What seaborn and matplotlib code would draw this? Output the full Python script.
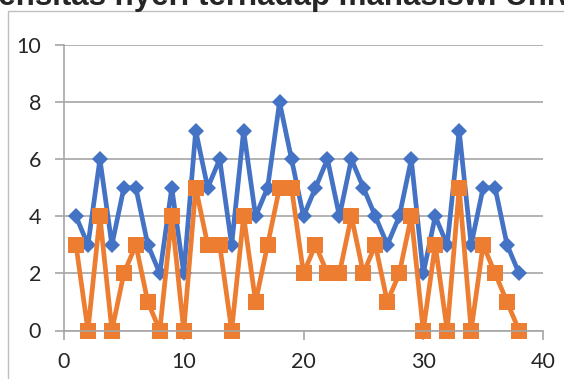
import pandas as pd
import seaborn as sns
import matplotlib.pyplot as plt
from matplotlib.patches import Rectangle

# data
responden = list(range(1, 39))
seri_1 = [4, 3, 6, 3, 5, 5, 3, 2, 5, 2, 7, 5, 6, 3, 7, 4, 5, 8, 6, 4,
          5, 6, 4, 6, 5, 4, 3, 4, 6, 2, 4, 3, 7, 3, 5, 5, 3, 2]
seri_2 = [3, 0, 4, 0, 2, 3, 1, 0, 4, 0, 5, 3, 3, 0, 4, 1, 3, 5, 5, 2,
          3, 2, 2, 4, 2, 3, 1, 2, 4, 0, 3, 0, 5, 0, 3, 2, 1, 0]
x_ticks = [0, 10, 20, 30, 40]
y_ticks = [0, 2, 4, 6, 8, 10]
judul = 'Intensitas nyeri terhadap mahasiswi Universitas'

df = pd.DataFrame({'x': responden, 'seri_1': seri_1, 'seri_2': seri_2})

sns.set_style('white')
plt.rcParams['font.family'] = ['Lato', 'DejaVu Sans']

fig = plt.figure(figsize=(5.64, 3.79), dpi=100)
ax = fig.add_axes([64 / 564, 48.5 / 379, (543 - 64) / 564, (330.5 - 45) / 379])

grey = '#a6a6a6'
sns.lineplot(data=df, x='x', y='seri_1', ax=ax, color='#4472C4', lw=3.4,
             marker='D', markersize=8.5, markeredgewidth=0)
sns.lineplot(data=df, x='x', y='seri_2', ax=ax, color='#ED7D31', lw=3.4,
             marker='s', markersize=11.5, markeredgewidth=0)
for ln in ax.lines:
    ln.set_clip_on(False)

ax.set_xlim(0, 40)
ax.set_ylim(0, 10)
ax.set_xticks(x_ticks)
ax.set_yticks(y_ticks)
ax.set_xlabel('')
ax.set_ylabel('')
ax.grid(axis='y', color=grey, lw=1.2)
ax.set_axisbelow(True)
for s in ['top', 'right']:
    ax.spines[s].set_visible(False)
for s in ['left', 'bottom']:
    ax.spines[s].set_color(grey)
    ax.spines[s].set_linewidth(1.2)
ax.tick_params(axis='both', length=6.5, width=1.2, color=grey,
               labelsize=15.5, labelcolor='#262626')
ax.tick_params(axis='y', pad=10)
ax.tick_params(axis='x', pad=9)
ax.tick_params(left=True, bottom=True)

# chart border and clipped title
fig.patches.append(Rectangle((8 / 564, -0.1), 1, 1.1 - 11 / 379,
                             transform=fig.transFigure, fill=False,
                             edgecolor='#bfbfbf', lw=1))
fig.text(-40 / 564, 1 - 5.5 / 379, judul, fontsize=22.5, fontweight='bold',
         family='Liberation Sans', va='baseline', ha='left')

fig.savefig('out.png', dpi=100)
